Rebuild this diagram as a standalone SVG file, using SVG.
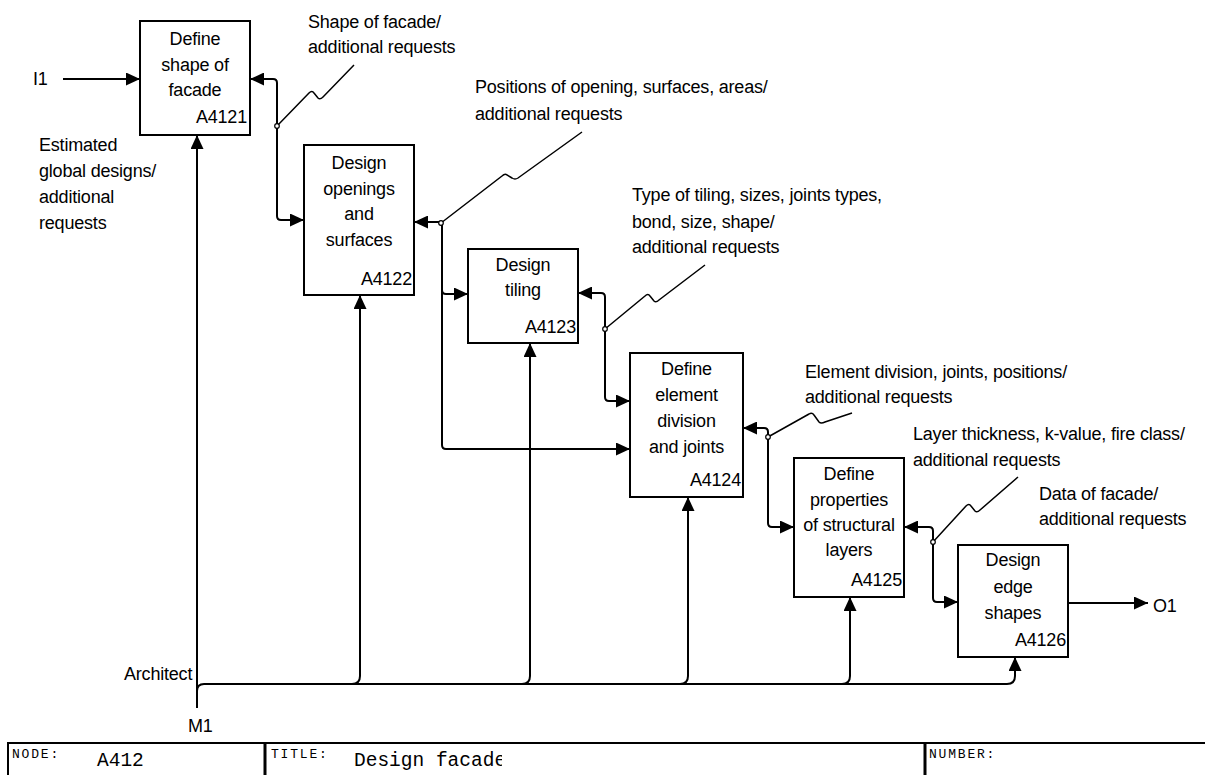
<svg xmlns="http://www.w3.org/2000/svg" width="1205" height="775" viewBox="0 0 1205 775">
  <defs>
    <marker id="arrow" viewBox="0 0 14 13" refX="14" refY="6.5" markerWidth="14" markerHeight="13" markerUnits="userSpaceOnUse" orient="auto-start-reverse">
      <path d="M0,0 L14,6.5 L0,13 Z" fill="#000"/>
    </marker>
    <clipPath id="titleClip">
      <rect x="265" y="743" width="237" height="32"/>
    </clipPath>
  </defs>
  <style>
    .box { fill: #fff; stroke: #000; stroke-width: 2; }
    .lbl { font-family: "Liberation Sans", Arial, sans-serif; font-size: 18px; letter-spacing: -0.2px; fill: #000; }
    .mid { text-anchor: middle; }
    .end { text-anchor: end; }
    .conn { fill: none; stroke: #000; stroke-width: 2; }
    .both { marker-start: url(#arrow); marker-end: url(#arrow); }
    .head { marker-end: url(#arrow); }
    .lead { fill: none; stroke: #000; stroke-width: 1.5; }
    .dot { fill: #fff; stroke: #000; stroke-width: 1.2; }
    .frame { fill: none; stroke: #000; stroke-width: 2; }
    .sep { fill: none; stroke: #000; stroke-width: 3; }
    .ftag { font-family: "Liberation Mono", "Courier New", monospace; font-size: 13px; letter-spacing: 1.8px; fill: #000; }
    .fval { font-family: "Liberation Mono", "Courier New", monospace; font-size: 19.5px; fill: #000; }
  </style>

  <rect width="1205" height="775" fill="#fff"/>

  <!-- activity boxes -->
  <g id="A4121">
    <rect class="box" x="140" y="21" width="110" height="114"/>
    <text class="lbl mid" x="195" y="45">Define</text>
    <text class="lbl mid" x="195" y="70.5">shape of</text>
    <text class="lbl mid" x="195" y="96">facade</text>
    <text class="lbl end" x="247" y="123">A4121</text>
  </g>
  <g id="A4122">
    <rect class="box" x="304" y="145" width="110" height="150"/>
    <text class="lbl mid" x="359" y="169">Design</text>
    <text class="lbl mid" x="359" y="194.5">openings</text>
    <text class="lbl mid" x="359" y="220">and</text>
    <text class="lbl mid" x="359" y="245.5">surfaces</text>
    <text class="lbl end" x="412" y="285">A4122</text>
  </g>
  <g id="A4123">
    <rect class="box" x="468" y="249" width="110" height="94"/>
    <text class="lbl mid" x="523" y="271">Design</text>
    <text class="lbl mid" x="523" y="296">tiling</text>
    <text class="lbl end" x="576" y="333">A4123</text>
  </g>
  <g id="A4124">
    <rect class="box" x="630" y="353" width="113" height="144"/>
    <text class="lbl mid" x="686.5" y="375">Define</text>
    <text class="lbl mid" x="686.5" y="401">element</text>
    <text class="lbl mid" x="686.5" y="427">division</text>
    <text class="lbl mid" x="686.5" y="453">and joints</text>
    <text class="lbl end" x="741" y="486">A4124</text>
  </g>
  <g id="A4125">
    <rect class="box" x="794" y="458" width="110" height="139"/>
    <text class="lbl mid" x="849" y="480">Define</text>
    <text class="lbl mid" x="849" y="506">properties</text>
    <text class="lbl mid" x="849" y="531">of structural</text>
    <text class="lbl mid" x="849" y="556">layers</text>
    <text class="lbl end" x="902" y="586">A4125</text>
  </g>
  <g id="A4126">
    <rect class="box" x="958" y="545" width="110" height="112"/>
    <text class="lbl mid" x="1013" y="566">Design</text>
    <text class="lbl mid" x="1013" y="593">edge</text>
    <text class="lbl mid" x="1013" y="619">shapes</text>
    <text class="lbl end" x="1066" y="646">A4126</text>
  </g>

  <!-- arrows between activities, inputs, outputs and mechanism -->
  <g id="connectors">
    <!-- input I1 -->
    <path class="conn head" d="M63,79 L140,79"/>
    <!-- A4121 <-> A4122 -->
    <path class="conn both" d="M250,79 L273,79 Q277,79 277,83 L277,216 Q277,220 281,220 L304,220"/>
    <!-- A4122 <-> A4123 / A4124 -->
    <path class="conn both" d="M414,222 L438,222 Q442,222 442,226 L442,445 Q442,449 446,449 L630,449"/>
    <path class="conn head" d="M442,290 Q442,294 446,294 L468,294"/>
    <!-- A4123 <-> A4124 -->
    <path class="conn both" d="M578,293 L601,293 Q605,293 605,297 L605,397 Q605,401 609,401 L630,401"/>
    <!-- A4124 <-> A4125 -->
    <path class="conn both" d="M743,428 L764,428 Q768,428 768,432 L768,523 Q768,527 772,527 L794,527"/>
    <!-- A4125 <-> A4126 -->
    <path class="conn both" d="M904,527 L929,527 Q933,527 933,531 L933,598 Q933,602 937,602 L958,602"/>
    <!-- output O1 -->
    <path class="conn head" d="M1068,603 L1148,603"/>

    <!-- mechanism M1 (Architect) -->
    <path class="conn head" d="M197,708 L197,135"/>
    <path class="conn head" d="M197,691 Q197,684 204,684 L1007,684 Q1015,684 1015,676 L1015,657"/>
    <path class="conn head" d="M352,684 Q360,684 360,676 L360,295"/>
    <path class="conn head" d="M522,684 Q530,684 530,676 L530,343"/>
    <path class="conn head" d="M680,684 Q688,684 688,676 L688,497"/>
    <path class="conn head" d="M842,684 Q850,684 850,676 L850,597"/>

    <!-- label leaders -->
    <path class="lead" d="M277,126 L309,93 Q312,90 314,93 L318,98 Q320,100 323,97 L354,65"/>
    <path class="lead" d="M441,223 L502,176 Q505,173 507,175 L512,178 Q515,180 518,178 L582,132"/>
    <path class="lead" d="M605,329 L645,296 Q648,293 650,296 L654,301 Q656,303 659,300 L705,265"/>
    <path class="lead" d="M768,437 L809,414 Q812,412 814,415 L819,422 Q821,424 825,422 L852,413"/>
    <path class="lead" d="M933,542 L966,506 Q969,503 971,506 L975,511 Q977,513 980,510 L1018,477"/>
    <circle class="dot" cx="277" cy="126" r="2.3"/>
    <circle class="dot" cx="441" cy="223" r="2.3"/>
    <circle class="dot" cx="605" cy="329" r="2.3"/>
    <circle class="dot" cx="768" cy="437" r="2.3"/>
    <circle class="dot" cx="933" cy="542" r="2.3"/>
  </g>

  <!-- arrow labels -->
  <g id="labels">
    <text class="lbl" x="33" y="85">I1</text>
    <text class="lbl" x="1153" y="612">O1</text>
    <text class="lbl" x="124" y="680">Architect</text>
    <text class="lbl" x="188" y="732">M1</text>
    <text class="lbl" x="39" y="151">Estimated</text>
    <text class="lbl" x="39" y="177">global designs/</text>
    <text class="lbl" x="39" y="203">additional</text>
    <text class="lbl" x="39" y="229">requests</text>
    <text class="lbl" x="308" y="28">Shape of facade/</text>
    <text class="lbl" x="308" y="53">additional requests</text>
    <text class="lbl" x="475" y="93">Positions of opening, surfaces, areas/</text>
    <text class="lbl" x="475" y="120">additional requests</text>
    <text class="lbl" x="632" y="201">Type of tiling, sizes, joints types,</text>
    <text class="lbl" x="632" y="228">bond, size, shape/</text>
    <text class="lbl" x="632" y="253">additional requests</text>
    <text class="lbl" x="805" y="378">Element division, joints, positions/</text>
    <text class="lbl" x="805" y="403">additional requests</text>
    <text class="lbl" x="913" y="440">Layer thickness, k-value, fire class/</text>
    <text class="lbl" x="913" y="466">additional requests</text>
    <text class="lbl" x="1039" y="500">Data of facade/</text>
    <text class="lbl" x="1039" y="525">additional requests</text>
  </g>

  <!-- title block -->
  <g id="footer">
    <path class="frame" d="M8,775 L8,743 L1205,743"/>
    <path class="sep" d="M265,743 L265,775 M925,743 L925,775"/>
    <text class="ftag" x="12" y="758">NODE:</text>
    <text class="fval" x="97" y="766">A412</text>
    <text class="ftag" x="271" y="758">TITLE:</text>
    <text class="fval" x="354" y="766" clip-path="url(#titleClip)">Design facade</text>
    <text class="ftag" x="929" y="758">NUMBER:</text>
  </g>
</svg>
